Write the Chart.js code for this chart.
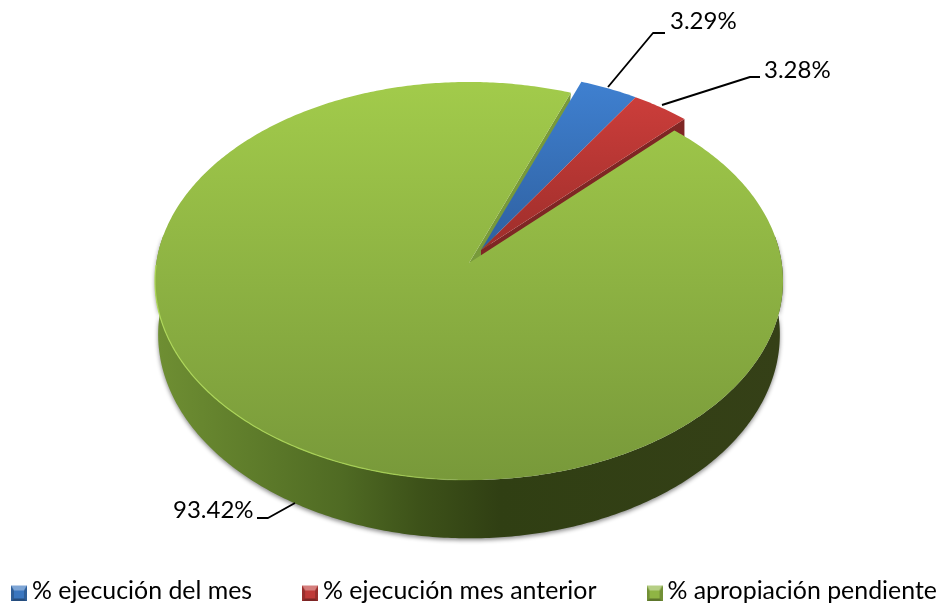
<!DOCTYPE html>
<html><head><meta charset="utf-8">
<style>html,body{margin:0;padding:0;background:#fff;overflow:hidden}canvas{display:block}</style>
<script src="https://cdn.jsdelivr.net/npm/chart.js@4"></script>
</head><body>
<canvas id="c" width="942" height="605"></canvas>
<script>
const categories = ['% ejecución del mes', '% ejecución mes anterior', '% apropiación pendiente'];
const values = [3.29, 3.28, 93.42];
const topColors = ['#3f80d0', '#d03f3c', '#a2cb4b'];
const bottomColors = ['#2e5f9e', '#9c2d2a', '#78993a'];
const legendColors = ['#3a76bf', '#bf3a38', '#8fb544'];

const FONT = 'Lato, Carlito, sans-serif';
const FONT_SIZE = 24;
const LEGEND_FONT_SIZE = 24.88;
const persp = {cx: 469, cy: 263, a: 197.4, b: 312.7, p: 0.0905, depth: 53};
const explode = {x: 0.0386, y: -0.066};
const exploded = [true, true, false];
const leaders = [
  {pts: [[608,87],[653,33],[665,33]], tx: 670, ty: 21},
  {pts: [[662,105],[750,77],[760,77]], tx: 764, ty: 70},
  {pts: [[295,503],[268,518],[257,518]], tx: 173, ty: 510}
];

function project(X, Y) {
  const w = 1 - persp.p * Y;
  return {x: persp.cx + persp.b * X / w, y: persp.cy + persp.a * Y / w};
}
function lower(pt, Y) {
  return {x: persp.cx + (pt.x - persp.cx) * 0.99, y: pt.y + persp.depth / (1 - persp.p * Y)};
}
function rimPoints(arc, i) {
  const ox = exploded[i] ? explode.x : 0, oy = exploded[i] ? explode.y : 0;
  const n = Math.max(8, Math.ceil((arc.endAngle - arc.startAngle) * 90));
  const pts = [];
  for (let k = 0; k <= n; k++) {
    const t = arc.startAngle + (arc.endAngle - arc.startAngle) * k / n;
    const X = ox + Math.cos(t), Y = oy + Math.sin(t);
    const q = project(X, Y); q.Y = Y;
    pts.push(q);
  }
  return {pts, apex: project(ox, oy), apexY: oy};
}
function tracePts(ctx, pts) { pts.forEach((q, j) => j ? ctx.lineTo(q.x, q.y) : ctx.moveTo(q.x, q.y)); }
function vGrad(ctx, y0, y1, c0, c1) { const g = ctx.createLinearGradient(0, y0, 0, y1); g.addColorStop(0, c0); g.addColorStop(1, c1); return g; }

const pie3d = {
  id: 'pie3d',
  afterLayout(chart) {
    const l = chart.legend, pad = l.options.labels.padding;
    l.left = 18.5 - pad; l.right = 1300; l.top = 579 - pad; l.bottom = 605;
  },
  beforeDatasetsDraw(chart) {
    const ctx = chart.ctx, arcs = chart.getDatasetMeta(0).data;
    const geo = arcs.map((a, i) => rimPoints(a, i));
    const G = geo[2], R = geo[1];
    ctx.save();
    // outer wall of the large slice
    const wall = ctx.createLinearGradient(155, 0, 783, 0);
    wall.addColorStop(0, '#6f8f33'); wall.addColorStop(0.15, '#5f7d2b');
    wall.addColorStop(0.3, '#4f6a23'); wall.addColorStop(0.42, '#3d5219');
    wall.addColorStop(0.55, '#303f13'); wall.addColorStop(1, '#354017');
    const front = G.pts.filter(q => q.Y > -0.15);
    ctx.save();
    ctx.shadowColor = 'rgba(0,0,0,0.45)'; ctx.shadowBlur = 4; ctx.shadowOffsetY = 2; ctx.shadowOffsetX = 0;
    ctx.beginPath(); tracePts(ctx, front);
    front.slice().reverse().forEach(q => { const b = lower(q, q.Y); ctx.lineTo(b.x, b.y); });
    ctx.closePath(); ctx.fillStyle = wall; ctx.fill();
    ctx.restore();
    // thin cut face of the large slice, next to the exploded wedges
    const gEnd = G.pts[G.pts.length - 1];
    ctx.beginPath(); ctx.moveTo(G.apex.x, G.apex.y); ctx.lineTo(gEnd.x, gEnd.y);
    ctx.lineTo(gEnd.x - 1, gEnd.y + 12); ctx.lineTo(G.apex.x + 14, G.apex.y - 5); ctx.closePath();
    ctx.fillStyle = '#789a3a'; ctx.fill();
    // cut face of the red wedge
    const rEnd = R.pts[R.pts.length - 1];
    ctx.beginPath(); ctx.moveTo(R.apex.x, R.apex.y); ctx.lineTo(rEnd.x, rEnd.y);
    ctx.lineTo(rEnd.x, rEnd.y + persp.depth); ctx.lineTo(R.apex.x, R.apex.y + persp.depth); ctx.closePath();
    ctx.fillStyle = '#7f2624'; ctx.fill();
    // top faces: large slice first, wedges over it
    [2, 0, 1].forEach(i => {
      const g = geo[i];
      ctx.beginPath(); ctx.moveTo(g.apex.x, g.apex.y);
      g.pts.forEach(q => ctx.lineTo(q.x, q.y)); ctx.closePath();
      const ys = i === 2 ? [82, 480] : [82, 255];
      ctx.fillStyle = vGrad(ctx, ys[0], ys[1], topColors[i], bottomColors[i]);
      ctx.fill();
    });
    // bevel highlight on the near left rim
    const hl = ctx.createLinearGradient(155, 0, 480, 0);
    hl.addColorStop(0, 'rgba(176,218,90,0.95)'); hl.addColorStop(0.75, 'rgba(166,208,84,0.9)'); hl.addColorStop(1, 'rgba(166,208,84,0)');
    ctx.beginPath(); tracePts(ctx, G.pts.filter(q => q.Y > 0 && q.x < 480));
    ctx.strokeStyle = hl; ctx.lineWidth = 1.2; ctx.stroke();
    // leader lines + labels
    ctx.strokeStyle = '#000'; ctx.lineWidth = 1.9; ctx.lineJoin = 'round';
    ctx.fillStyle = '#000'; ctx.font = FONT_SIZE + 'px ' + FONT;
    ctx.textAlign = 'left'; ctx.textBaseline = 'middle';
    leaders.forEach((l, i) => {
      ctx.beginPath(); l.pts.forEach((p, j) => j ? ctx.lineTo(p[0], p[1]) : ctx.moveTo(p[0], p[1])); ctx.stroke();
      ctx.fillText(values[i].toFixed(2) + '%', l.tx, l.ty);
    });
    ctx.restore();
    return false;
  }
};

function swatch(color) {
  const c = document.createElement('canvas'); c.width = 16; c.height = 20;
  const x = c.getContext('2d');
  const tri = (pts, col) => { x.beginPath(); pts.forEach((p, j) => j ? x.lineTo(p[0], p[1]+4) : x.moveTo(p[0], p[1]+4)); x.closePath(); x.fillStyle = col; x.fill(); };
  x.fillStyle = color; x.fillRect(0, 4, 16, 16);
  tri([[0,0],[16,0],[13,5],[3,5]], 'rgba(255,255,255,0.35)');
  tri([[0,16],[16,16],[13,13],[3,13]], 'rgba(0,0,0,0.35)');
  tri([[0,0],[3,5],[3,13],[0,16]], 'rgba(0,0,0,0.2)');
  tri([[16,0],[13,5],[13,13],[16,16]], 'rgba(0,0,0,0.2)');
  return c;
}

new Chart(document.getElementById('c'), {
  type: 'pie',
  data: {labels: categories, datasets: [{data: values, backgroundColor: legendColors, borderWidth: 0}]},
  options: {
    responsive: false, animation: false, rotation: 20.7,
    events: [],
    plugins: {
      tooltip: {enabled: false},
      legend: {
        position: 'bottom', align: 'start',
        labels: {
          usePointStyle: true, pointStyleWidth: 1, padding: 57.5, color: '#000',
          font: {family: FONT, size: LEGEND_FONT_SIZE},
          generateLabels: () => categories.map((t, i) => ({
            text: t, pointStyle: swatch(legendColors[i]), fillStyle: legendColors[i], strokeStyle: 'transparent', lineWidth: 0, datasetIndex: 0, index: i, fontColor: '#000'
          }))
        }
      }
    }
  },
  plugins: [pie3d]
});
</script>
</body></html>
